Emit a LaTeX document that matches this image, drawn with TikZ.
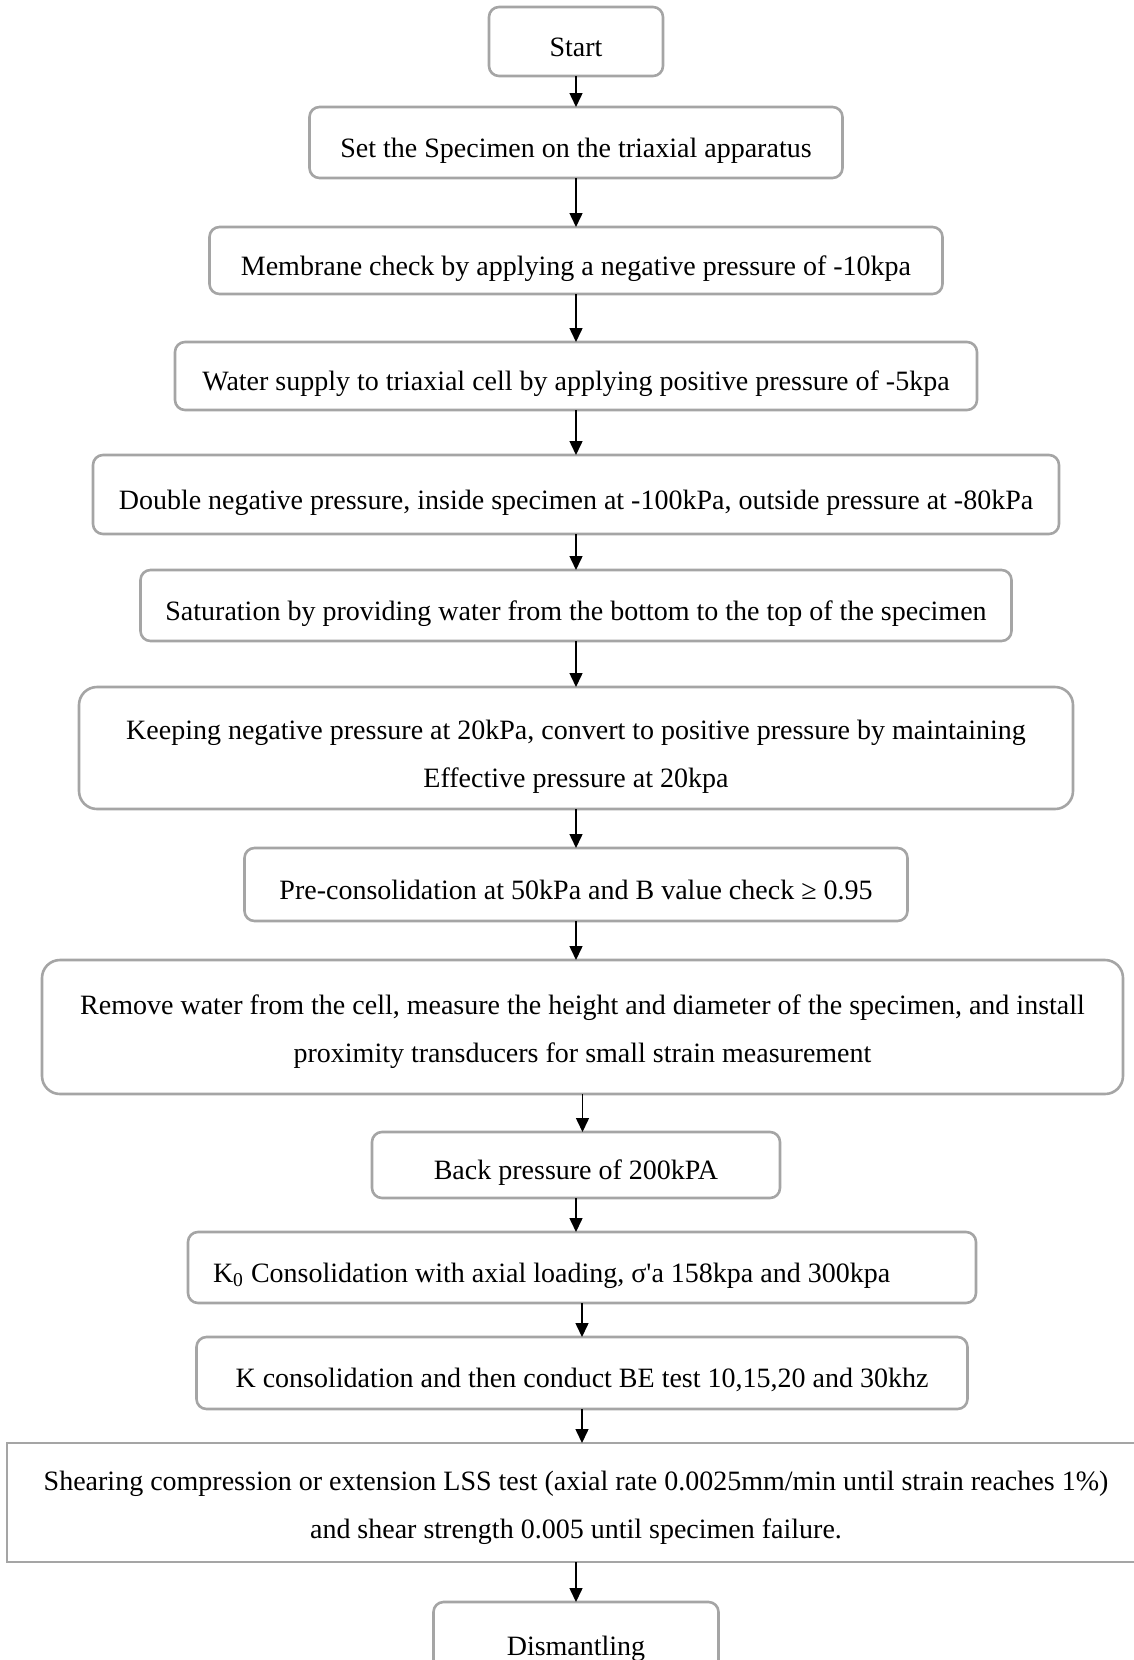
\documentclass[tikz,border=0pt]{standalone}
\usepackage{fontspec}
\setmainfont{Liberation Serif}
\usepackage{tikz}
\usetikzlibrary{positioning,arrows.meta}
\definecolor{boxgray}{RGB}{165,165,165}

\begin{document}
\begin{tikzpicture}[
    stepbox/.style={rectangle, rounded corners=5pt, draw=boxgray, line width=1.3pt, outer sep=0pt, align=center,
                    font=\fontsize{14pt}{24pt}\selectfont, execute at begin node={\rule[-3pt]{0pt}{20.6pt}}},
    tallbox/.style={stepbox, rounded corners=9pt},
    flatbox/.style={stepbox, rounded corners=0pt},
    flowarrow/.style={line width=0.75pt, -{Triangle[width=6.5pt,length=7pt]}}]
    \useasboundingbox (0,0) rectangle (567pt,-830pt);
    %Nodes
    \node[stepbox, minimum width=87pt, minimum height=34.5pt]     (start)  at (288pt,-20.75pt) {Start};
    \node[stepbox, minimum width=266.5pt, minimum height=35.5pt]  (set)       [below=15.5pt of start] {Set the Specimen on the triaxial apparatus};
    \node[stepbox, minimum width=366.5pt, minimum height=33.5pt]  (membrane)  [below=24.5pt of set] {Membrane check by applying a negative pressure of -10kpa};
    \node[stepbox, minimum width=401pt, minimum height=34pt]      (water)     [below=24pt of membrane] {Water supply to triaxial cell by applying positive pressure of -5kpa};
    \node[stepbox, minimum width=483pt, minimum height=39.5pt]    (double)    [below=22.5pt of water] {Double negative pressure, inside specimen at -100kPa, outside pressure at -80kPa};
    \node[stepbox, minimum width=435.5pt, minimum height=35.5pt]  (saturate)  [below=18pt of double] {Saturation by providing water from the bottom to the top of the specimen};
    \node[tallbox, minimum width=497pt, minimum height=61pt]      (keep)      [below=23pt of saturate] {\rule{0pt}{18.4pt}Keeping negative pressure at 20kPa, convert to positive pressure by maintaining\\Effective pressure at 20kpa};
    \node[stepbox, minimum width=331.5pt, minimum height=36.5pt]  (precons)   [below=19.5pt of keep] {Pre-consolidation at 50kPa and B value check ≥ 0.95};
    \node[tallbox, minimum width=540.5pt, minimum height=67pt]    (remove)    [below=19.5pt of precons, xshift=3.25pt] {\rule{0pt}{14.2pt}Remove water from the cell, measure the height and diameter of the specimen, and install\\proximity transducers for small strain measurement};
    \node[stepbox, minimum width=204pt, minimum height=33pt]      (back)      [below=19pt of remove, xshift=-3.25pt] {Back pressure of 200kPA};
    \node[stepbox, text width=369pt, inner xsep=12.5pt, align=flush left, minimum height=35.5pt]
                                                                  (kzero)     [below=17pt of back, xshift=3pt] {K\textsubscript{0} Consolidation with axial loading, σ\textquotesingle a 158kpa and 300kpa};
    \node[stepbox, minimum width=385.5pt, minimum height=36pt]    (kcons)     [below=17pt of kzero] {K consolidation and then conduct BE test 10,15,20 and 30khz};
    \node[flatbox, minimum width=569pt, minimum height=59.5pt]    (shear)     [below=17pt of kcons, xshift=-3pt] {\rule{0pt}{15.3pt}Shearing compression or extension LSS test (axial rate 0.0025mm/min until strain reaches 1\%)\\and shear strength 0.005 until specimen failure.};
    \node[stepbox, minimum width=142.5pt, minimum height=39pt]    (dismantle) [below=20pt of shear] {Dismantling};

    %Lines
    \draw[flowarrow] (start.south) -- (start.south |- set.north);
    \draw[flowarrow] (set.south) -- (set.south |- membrane.north);
    \draw[flowarrow] (membrane.south) -- (membrane.south |- water.north);
    \draw[flowarrow] (water.south) -- (water.south |- double.north);
    \draw[flowarrow] (double.south) -- (double.south |- saturate.north);
    \draw[flowarrow] (saturate.south) -- (saturate.south |- keep.north);
    \draw[flowarrow] (keep.south) -- (keep.south |- precons.north);
    \draw[flowarrow] (precons.south) -- (precons.south |- remove.north);
    \draw[flowarrow] (remove.south) -- (remove.south |- back.north);
    \draw[flowarrow] (back.south) -- (back.south |- kzero.north);
    \draw[flowarrow] (kzero.south) -- (kzero.south |- kcons.north);
    \draw[flowarrow] (kcons.south) -- (kcons.south |- shear.north);
    \draw[flowarrow] (shear.south) -- (shear.south |- dismantle.north);
\end{tikzpicture}
\end{document}
